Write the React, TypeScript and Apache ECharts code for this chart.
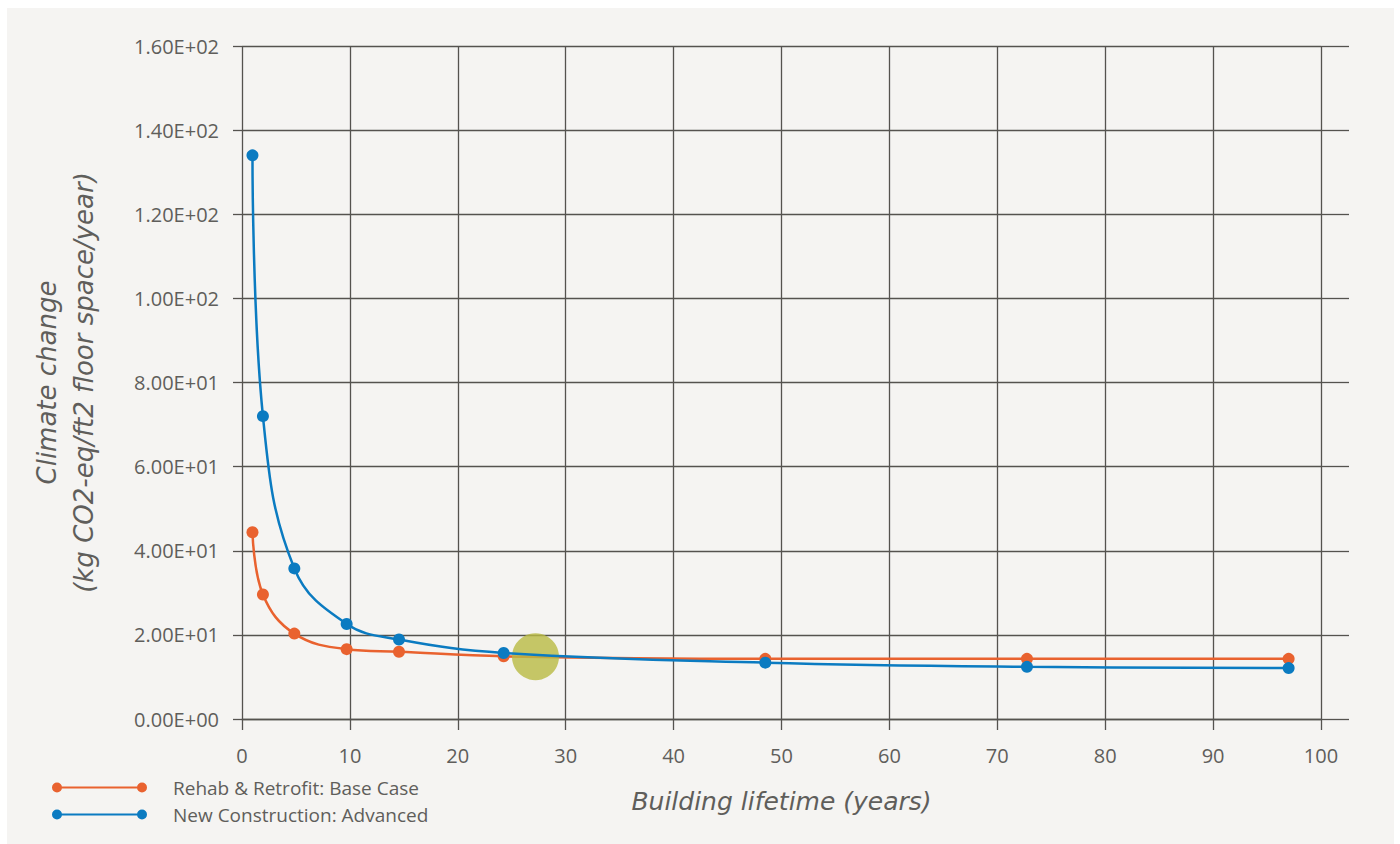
import React, { useEffect, useRef } from "react";
import * as echarts from "echarts";

const lifetimeYears = [0.97, 1.94, 4.85, 9.7, 14.55, 24.25, 48.5, 72.75, 97];
const rehabValues = [44.4, 29.6, 20.3, 16.6, 16.0, 14.9, 14.3, 14.3, 14.3];
const newConstructionValues = [134, 72.0, 35.8, 22.6, 18.9, 15.7, 13.4, 12.4, 12.1];
const breakEvenPoint = [27.2, 14.8];
const seriesNames = ["Rehab & Retrofit: Base Case", "New Construction: Advanced"];
const xTickValues = [0, 10, 20, 30, 40, 50, 60, 70, 80, 90, 100];
const yTickValues = [0, 20, 40, 60, 80, 100, 120, 140, 160];

const FONT = "'Open Sans', 'Noto Sans', sans-serif";
const NAME_FONT = "'DejaVu Sans', 'Open Sans', sans-serif";
const GRID_COLOR = "#55534f";
const TEXT_COLOR = "#5f5e5b";
const ORANGE = "#e9622f";
const BLUE = "#0b7bc1";
const OLIVE = "#b9ba42";

function sci(v: number): string {
  const e = v === 0 ? 0 : Math.floor(Math.log10(Math.abs(v)));
  const m = v / Math.pow(10, e);
  return `${m.toFixed(2)}E+${String(e).padStart(2, "0")}`;
}

const legendIcon =
  "path://M0,5 A5,5 0 1,1 10,5 A5,5 0 1,1 0,5 Z M5,4 L90,4 L90,6 L5,6 Z M85,5 A5,5 0 1,1 95,5 A5,5 0 1,1 85,5 Z";

const legendBase = {
  orient: "horizontal",
  left: 52,
  itemWidth: 95,
  itemHeight: 10,
  icon: legendIcon,
  padding: 0,
  textStyle: { fontFamily: FONT, fontSize: 19, color: TEXT_COLOR, padding: [0, 0, 0, 21] },
};

export default function App() {
  const ref = useRef<HTMLDivElement>(null);
  useEffect(() => {
    document.body.style.margin = "0";
    if (!ref.current) return;
    const chart = echarts.init(ref.current, undefined, { renderer: "svg" });
    const toPairs = (ys: number[]) => lifetimeYears.map((x, i) => [x, ys[i]]);
    chart.setOption({
      animation: false,
      backgroundColor: "transparent",
      textStyle: { fontFamily: FONT },
      grid: { left: 242, right: 79, top: 46, bottom: 125, containLabel: false },
      legend: [
        { ...legendBase, data: [seriesNames[0]], top: 778 },
        { ...legendBase, data: [seriesNames[1]], top: 805 },
      ],
      xAxis: {
        type: "value",
        min: xTickValues[0],
        max: xTickValues[xTickValues.length - 1],
        interval: 10,
        name: "Building lifetime (years)",
        nameLocation: "middle",
        nameGap: 70,
        nameTextStyle: { fontFamily: NAME_FONT, fontSize: 25, fontWeight: 200, fontStyle: "italic", color: TEXT_COLOR },
        axisLine: { show: true, lineStyle: { color: GRID_COLOR, width: 1.3 } },
        axisTick: { show: true, length: 11, lineStyle: { color: GRID_COLOR, width: 1.3 } },
        splitLine: { show: true, lineStyle: { color: GRID_COLOR, width: 1.3 } },
        axisLabel: { margin: 26, fontSize: 20, color: TEXT_COLOR, fontFamily: FONT },
      },
      yAxis: [
        {
          type: "value",
          min: yTickValues[0],
          max: yTickValues[yTickValues.length - 1],
          interval: 20,
          name: "Climate change\n(kg CO2-eq/ft2 floor space/year)",
          nameLocation: "middle",
          nameRotate: 90,
          nameGap: 140,
          nameTextStyle: {
            fontFamily: NAME_FONT,
            fontSize: 26,
            fontWeight: 200,
            fontStyle: "italic",
            color: TEXT_COLOR,
            lineHeight: 37,
          },
          axisLine: { show: false },
          axisTick: { show: true, length: 9, lineStyle: { color: GRID_COLOR, width: 1.3 } },
          splitLine: { show: true, lineStyle: { color: GRID_COLOR, width: 1.3 } },
          axisLabel: { margin: 23, fontSize: 20, color: TEXT_COLOR, fontFamily: FONT, formatter: (v: number) => sci(v) },
        },
        {
          type: "value",
          position: "right",
          min: yTickValues[0],
          max: yTickValues[yTickValues.length - 1],
          interval: 20,
          axisLine: { show: false },
          axisTick: { show: true, length: 28, lineStyle: { color: GRID_COLOR, width: 1.3 } },
          splitLine: { show: false },
          axisLabel: { show: false },
        },
      ],
      series: [
        {
          name: seriesNames[0],
          type: "line",
          data: toPairs(rehabValues),
          smooth: 0.4,
          symbol: "circle",
          symbolSize: 12,
          color: ORANGE,
          lineStyle: { width: 2.5, color: ORANGE },
          z: 2,
        },
        {
          name: "Break-even",
          type: "scatter",
          data: [breakEvenPoint],
          symbolSize: 47,
          itemStyle: { color: OLIVE },
          z: 3,
        },
        {
          name: seriesNames[1],
          type: "line",
          data: toPairs(newConstructionValues),
          smooth: 0.4,
          symbol: "circle",
          symbolSize: 12,
          color: BLUE,
          lineStyle: { width: 2.5, color: BLUE },
          z: 4,
        },
      ],
    });
    return () => chart.dispose();
  }, []);
  return (
    <div style={{ position: "absolute", left: 0, top: 0, width: 1400, height: 844, background: "#ffffff" }}>
      <div style={{ position: "absolute", left: 7, top: 8, width: 1387, height: 836, background: "#f5f4f2" }} />
      <div ref={ref} style={{ position: "absolute", left: 0, top: 0, width: 1400, height: 844 }} />
    </div>
  );
}
